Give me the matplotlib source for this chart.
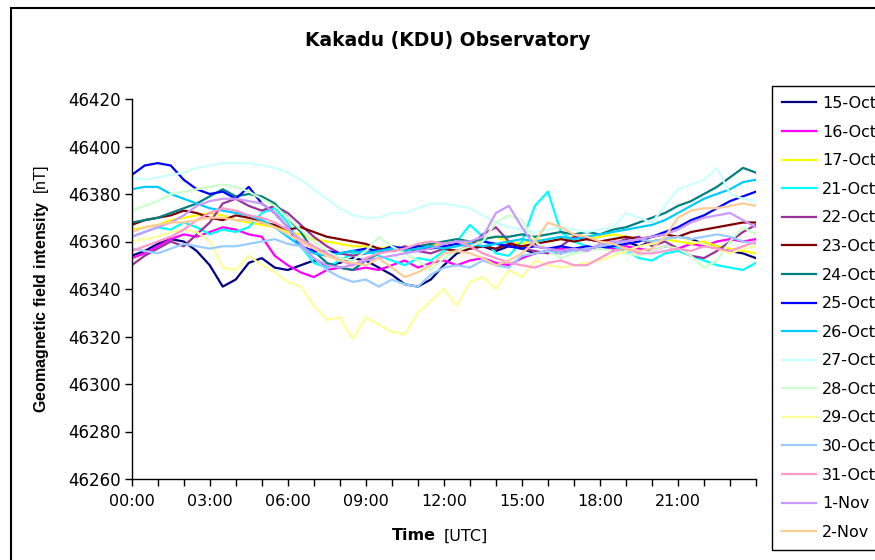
"""
Kakadu (KDU) Observatory - daily geomagnetic field intensity traces.
Values read off the reference chart at 30-minute steps.
"""

import matplotlib
matplotlib.use("Agg")
import matplotlib.pyplot as plt
from matplotlib.patches import Rectangle
from matplotlib.ticker import MultipleLocator

plt.rcParams["font.family"] = ["DejaVu Sans"]
plt.rcParams["mathtext.fontset"] = "custom"
plt.rcParams["mathtext.rm"] = "Liberation Sans"
plt.rcParams["mathtext.bf"] = "Liberation Sans:bold"

# time of day in hours, 30-minute steps
hours = [h / 2 for h in range(49)]

day_labels = ["15-Oct", "16-Oct", "17-Oct", "21-Oct", "22-Oct", "23-Oct", "24-Oct", "25-Oct",
              "26-Oct", "27-Oct", "28-Oct", "29-Oct", "30-Oct", "31-Oct", "1-Nov", "2-Nov"]
day_colors = ["#000080", "#FF00FF", "#FFFF00", "#00FFFF", "#993399", "#800000", "#008080", "#0000FF",
              "#00CCFF", "#CCFFFF", "#CCFFCC", "#FFFF99", "#99CCFF", "#FF99CC", "#CC99FF", "#FFCC99"]

oct15 = [46354, 46356, 46359, 46361, 46360, 46356, 46350, 46341, 46344, 46351, 46353, 46349, 46348,
         46350, 46352, 46350, 46351, 46353, 46352, 46349, 46346, 46342, 46341, 46344, 46350, 46355,
         46357, 46358, 46356, 46358, 46357, 46355, 46356, 46355, 46357, 46356, 46358, 46359, 46360,
         46358, 46360, 46361, 46362, 46361, 46359, 46358, 46356, 46355, 46353]
oct16 = [46353, 46355, 46358, 46361, 46363, 46362, 46364, 46366, 46365, 46363, 46362, 46354, 46350,
         46347, 46345, 46348, 46349, 46348, 46349, 46348, 46350, 46352, 46349, 46351, 46352, 46350,
         46352, 46353, 46351, 46350, 46353, 46355, 46356, 46357, 46356, 46357, 46358, 46357, 46358,
         46357, 46356, 46358, 46357, 46359, 46358, 46360, 46361, 46360, 46361]
oct17 = [46365, 46366, 46367, 46369, 46370, 46371, 46372, 46371, 46369, 46368, 46367, 46366, 46364,
         46363, 46361, 46360, 46359, 46358, 46358, 46357, 46358, 46357, 46358, 46359, 46358, 46360,
         46359, 46361, 46362, 46360, 46359, 46361, 46360, 46361, 46362, 46361, 46362, 46363, 46362,
         46361, 46360, 46361, 46360, 46359, 46360, 46358, 46357, 46356, 46355]
oct21 = [46362, 46364, 46366, 46365, 46368, 46366, 46363, 46365, 46364, 46366, 46372, 46374, 46368,
         46358, 46351, 46349, 46352, 46355, 46356, 46354, 46352, 46350, 46353, 46352, 46356, 46360,
         46367, 46362, 46355, 46354, 46360, 46375, 46381, 46364, 46360, 46358, 46357, 46358, 46356,
         46353, 46352, 46355, 46356, 46354, 46352, 46350, 46349, 46348, 46351]
oct22 = [46350, 46354, 46357, 46360, 46358, 46363, 46368, 46376, 46378, 46375, 46373, 46375, 46372,
         46367, 46362, 46358, 46355, 46354, 46355, 46357, 46356, 46358, 46356, 46355, 46357, 46356,
         46358, 46363, 46366, 46360, 46357, 46356, 46355, 46358, 46362, 46361, 46360, 46359, 46361,
         46362, 46358, 46360, 46357, 46354, 46353, 46356, 46360, 46364, 46367]
oct23 = [46367, 46369, 46370, 46371, 46373, 46372, 46370, 46369, 46371, 46370, 46368, 46367, 46365,
         46366, 46364, 46362, 46361, 46360, 46359, 46357, 46356, 46357, 46356, 46358, 46357, 46356,
         46357, 46358, 46357, 46359, 46358, 46359, 46360, 46361, 46360, 46361, 46360, 46361, 46362,
         46361, 46362, 46363, 46362, 46364, 46365, 46366, 46367, 46368, 46368]
oct24 = [46368, 46369, 46370, 46372, 46374, 46376, 46379, 46382, 46379, 46380, 46379, 46376, 46370,
         46364, 46356, 46351, 46349, 46348, 46352, 46355, 46357, 46356, 46358, 46359, 46360, 46361,
         46360, 46361, 46362, 46362, 46363, 46362, 46363, 46364, 46363, 46364, 46363, 46365, 46366,
         46368, 46370, 46372, 46375, 46377, 46380, 46383, 46387, 46391, 46389]
oct25 = [46388, 46392, 46393, 46392, 46386, 46382, 46380, 46381, 46378, 46383, 46376, 46372, 46366,
         46358, 46356, 46356, 46355, 46356, 46357, 46356, 46358, 46357, 46358, 46357, 46358, 46359,
         46358, 46360, 46359, 46358, 46357, 46358, 46357, 46358, 46357, 46358, 46357, 46358, 46359,
         46360, 46362, 46364, 46366, 46369, 46371, 46374, 46377, 46379, 46381]
oct26 = [46382, 46383, 46383, 46380, 46378, 46376, 46374, 46373, 46372, 46371, 46369, 46366, 46362,
         46358, 46355, 46354, 46355, 46356, 46355, 46356, 46357, 46356, 46357, 46358, 46357, 46358,
         46359, 46358, 46359, 46360, 46361, 46360, 46361, 46362, 46361, 46362, 46363, 46364, 46365,
         46366, 46367, 46369, 46372, 46375, 46378, 46380, 46382, 46385, 46386]
oct27 = [46387, 46386, 46387, 46388, 46389, 46391, 46392, 46393, 46393, 46393, 46392, 46391, 46389,
         46386, 46382, 46378, 46374, 46371, 46370, 46370, 46372, 46372, 46374, 46376, 46376, 46375,
         46374, 46371, 46368, 46366, 46365, 46364, 46365, 46366, 46365, 46364, 46365, 46366, 46372,
         46370, 46368, 46375, 46382, 46384, 46386, 46391, 46380, 46378, 46377]
oct28 = [46373, 46375, 46377, 46380, 46381, 46382, 46383, 46384, 46383, 46381, 46378, 46375, 46370,
         46365, 46360, 46356, 46353, 46352, 46356, 46362, 46358, 46355, 46352, 46348, 46353, 46356,
         46358, 46360, 46368, 46371, 46369, 46360, 46356, 46353, 46355, 46356, 46357, 46356, 46355,
         46354, 46356, 46358, 46357, 46354, 46349, 46352, 46360, 46366, 46363]
oct29 = [46360, 46361, 46362, 46364, 46365, 46364, 46360, 46349, 46348, 46354, 46350, 46347, 46343,
         46341, 46333, 46327, 46328, 46319, 46328, 46325, 46322, 46321, 46330, 46335, 46340, 46333,
         46343, 46345, 46340, 46348, 46345, 46352, 46350, 46349, 46350, 46351, 46352, 46354, 46356,
         46358, 46359, 46361, 46362, 46360, 46359, 46357, 46355, 46357, 46358]
oct30 = [46357, 46356, 46355, 46357, 46359, 46358, 46357, 46358, 46358, 46359, 46360, 46361, 46359,
         46358, 46353, 46348, 46345, 46343, 46344, 46341, 46344, 46342, 46341, 46346, 46349, 46350,
         46349, 46352, 46350, 46349, 46354, 46355, 46356, 46355, 46356, 46357, 46358, 46359, 46360,
         46361, 46360, 46361, 46362, 46361, 46362, 46363, 46362, 46360, 46359]
oct31 = [46356, 46358, 46360, 46362, 46365, 46369, 46372, 46374, 46373, 46371, 46370, 46368, 46365,
         46361, 46358, 46355, 46352, 46350, 46353, 46355, 46356, 46357, 46359, 46360, 46359, 46360,
         46358, 46355, 46353, 46351, 46350, 46349, 46351, 46352, 46350, 46350, 46353, 46356, 46357,
         46355, 46355, 46356, 46357, 46356, 46358, 46357, 46356, 46358, 46360]
nov01 = [46362, 46364, 46366, 46368, 46371, 46375, 46377, 46378, 46378, 46377, 46376, 46372, 46366,
         46359, 46353, 46350, 46349, 46350, 46352, 46353, 46354, 46355, 46356, 46357, 46359, 46360,
         46360, 46362, 46372, 46375, 46366, 46358, 46357, 46356, 46357, 46356, 46359, 46360, 46360,
         46361, 46362, 46363, 46365, 46368, 46370, 46371, 46372, 46369, 46366]
nov02 = [46364, 46366, 46367, 46368, 46368, 46369, 46370, 46370, 46369, 46369, 46368, 46366, 46363,
         46360, 46357, 46354, 46352, 46351, 46350, 46353, 46349, 46345, 46347, 46350, 46355, 46356,
         46355, 46353, 46350, 46352, 46355, 46360, 46368, 46366, 46363, 46362, 46360, 46359, 46357,
         46356, 46357, 46362, 46370, 46373, 46374, 46374, 46375, 46376, 46375]

day_values = [oct15, oct16, oct17, oct21, oct22, oct23, oct24, oct25,
              oct26, oct27, oct28, oct29, oct30, oct31, nov01, nov02]

y_min, y_max, y_step = 46260, 46420, 20
x_tick_labels = ["00:00", "03:00", "06:00", "09:00", "12:00", "15:00", "18:00", "21:00"]

W, H = 875, 560


def main():
    fig = plt.figure(figsize=(W / 100, H / 100), dpi=100)
    ax = fig.add_axes([131.7 / W, 1 - 479 / H, 624.3 / W, 380 / H])

    for label, color, vals in zip(day_labels, day_colors, day_values):
        ax.plot(hours, vals, color=color, linewidth=1.6, label=label)

    ax.set_xlim(0, 24)
    ax.set_ylim(y_min, y_max)
    ax.yaxis.set_major_locator(MultipleLocator(y_step))
    ax.set_xticks(range(0, 24, 3))
    ax.set_xticklabels(x_tick_labels)
    ax.xaxis.set_minor_locator(MultipleLocator(1))

    for side in ("top", "right"):
        ax.spines[side].set_visible(False)
    for side in ("left", "bottom"):
        ax.spines[side].set_linewidth(1.0)

    ax.tick_params(axis="both", which="both", direction="out", length=5, width=1,
                   labelsize=11.5, colors="black")
    ax.tick_params(axis="x", pad=6)
    ax.tick_params(axis="y", pad=3, labelsize=12)

    # y label: bold name + plain unit (vertical text is not stretched in the source)
    ax.set_ylabel(r"$\bf{Geomagnetic\ field\ intensity}$  [nT]", fontsize=11.5,
                  labelpad=12, fontfamily="Liberation Sans")

    # x label: bold "Time" + plain "[UTC]"
    fig.text(436 / W, 1 - 536 / H, "Time", ha="right", va="center",
             fontsize=11.5, fontweight="bold")
    fig.text(444 / W, 1 - 536 / H, "[UTC]", ha="left", va="center", fontsize=11.5)

    fig.text(448 / W, 1 - 40 / H, "Kakadu (KDU) Observatory", ha="center", va="center",
             fontsize=13.5, fontweight="bold")

    leg = fig.legend(loc="upper left", bbox_to_anchor=(771.7 / W, 1 - 85.7 / H),
                     fontsize=11.5, frameon=True, fancybox=False, framealpha=1,
                     edgecolor="black", borderpad=0.65, labelspacing=0.85,
                     handlelength=2.1, handletextpad=0.4, borderaxespad=0)
    leg.get_frame().set_linewidth(1.0)

    # chart area border (cut off by the right and bottom edges)
    fig.patches.append(Rectangle((11 / W, -0.2), 1.0, 1.2 - 8 / H,
                                 transform=fig.transFigure, fill=False,
                                 edgecolor="black", linewidth=1.5))

    fig.savefig("out.png", dpi=100)


if __name__ == "__main__":
    main()
